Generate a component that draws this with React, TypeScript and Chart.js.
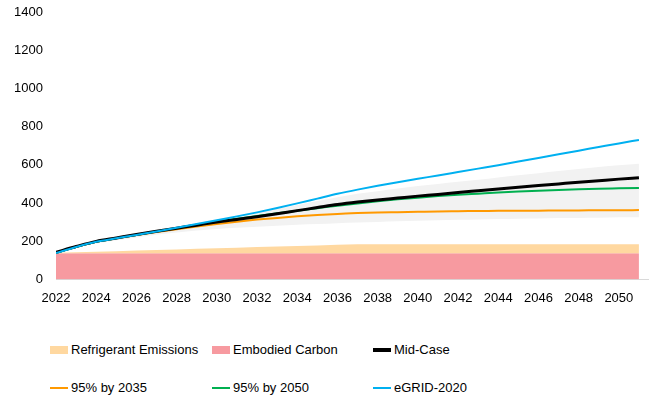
import React, { useEffect, useRef } from "react";
import { Chart, registerables } from "chart.js";

Chart.register(...registerables);

const years = [
  2022, 2023, 2024, 2025, 2026, 2027, 2028, 2029, 2030, 2031,
  2032, 2033, 2034, 2035, 2036, 2037, 2038, 2039, 2040, 2041,
  2042, 2043, 2044, 2045, 2046, 2047, 2048, 2049, 2050, 2051,
];

const yTicks = [0, 200, 400, 600, 800, 1000, 1200, 1400];
const xTickYears = [2022, 2024, 2026, 2028, 2030, 2032, 2034, 2036, 2038, 2040, 2042, 2044, 2046, 2048, 2050];

const embodiedCarbon = [
  137, 137, 137, 137, 137, 137, 137, 137, 137, 137,
  137, 137, 137, 137, 137, 137, 137, 137, 137, 137,
  137, 137, 137, 137, 137, 137, 137, 137, 137, 137,
];

const refrigerantEmissions = [
  2, 5, 8, 11, 14, 17, 20, 23, 26, 29,
  32, 35, 38, 41, 44, 47, 47, 47, 47, 47,
  47, 47, 47, 47, 47, 47, 47, 47, 47, 47,
];

const rangeLow = [
  138, 165, 188, 205, 220, 234, 246, 256, 264, 270,
  276, 281, 286, 290, 294, 298, 301, 304, 307, 310,
  312, 314, 316, 318, 319, 321, 322, 323, 325, 326,
];

const rangeHigh = [
  142, 172, 200, 220, 240, 258, 276, 294, 312, 330,
  350, 370, 390, 410, 430, 448, 462, 476, 489, 500,
  511, 522, 534, 545, 556, 567, 578, 588, 597, 605,
];

const midCase = [
  142, 172, 199, 217, 235, 252, 268, 284, 300, 314,
  328, 344, 360, 376, 392, 405, 416, 426, 436, 445,
  455, 464, 473, 482, 491, 500, 509, 517, 525, 532,
];

const by2035 = [
  140, 170, 197, 215, 232, 248, 263, 277, 290, 302,
  313, 322, 330, 337, 343, 347, 350, 352, 354, 356,
  357, 358, 359, 360, 360, 361, 361, 362, 362, 363,
];

const by2050 = [
  140, 170, 197, 215, 233, 251, 268, 286, 303, 318,
  332, 346, 360, 373, 386, 398, 409, 419, 428, 436,
  443, 449, 455, 460, 464, 468, 472, 475, 477, 479,
];

const egrid2020 = [
  138, 170, 197, 215, 233, 251, 270, 290, 310, 330,
  351, 374, 398, 423, 448, 470, 490, 509, 527, 544,
  562, 580, 598, 617, 636, 655, 674, 693, 712, 730,
];

const FONT = "'Liberation Sans', Arial, sans-serif";

const legendItems = [
  { label: "Refrigerant Emissions", color: "#FFD8A0", kind: "box" },
  { label: "Embodied Carbon", color: "#F79AA0", kind: "box" },
  { label: "Mid-Case", color: "#000000", kind: "thick" },
  { label: "95% by 2035", color: "#FF9900", kind: "line" },
  { label: "95% by 2050", color: "#00B050", kind: "line" },
  { label: "eGRID-2020", color: "#00B0F0", kind: "line" },
];

const pts = (arr: number[]) => arr.map((v, i) => ({ x: years[i], y: v }));

export default function App() {
  const ref = useRef<HTMLCanvasElement | null>(null);

  useEffect(() => {
    if (!ref.current) return;
    const refrigerantTop = refrigerantEmissions.map((v, i) => v + embodiedCarbon[i]);
    const lineBase = {
      pointRadius: 0,
      fill: false,
      cubicInterpolationMode: "monotone" as const,
    };
    const chart = new Chart(ref.current, {
      type: "line",
      data: {
        datasets: [
          {
            label: "Embodied Carbon",
            data: pts(embodiedCarbon),
            borderWidth: 0,
            borderColor: "rgba(0,0,0,0)",
            backgroundColor: "#F79AA0",
            pointRadius: 0,
            fill: "origin",
            order: 10,
          },
          {
            label: "Refrigerant Emissions",
            data: pts(refrigerantTop),
            borderWidth: 0,
            borderColor: "rgba(0,0,0,0)",
            backgroundColor: "#FFD8A0",
            pointRadius: 0,
            fill: 0,
            order: 9,
          },
          {
            label: "range-low",
            data: pts(rangeLow),
            ...lineBase,
            borderWidth: 0,
            borderColor: "rgba(0,0,0,0)",
            order: 8,
          },
          {
            label: "range-high",
            data: pts(rangeHigh),
            ...lineBase,
            borderWidth: 0,
            borderColor: "rgba(0,0,0,0)",
            backgroundColor: "#F2F2F2",
            fill: 2,
            order: 7,
          },
          {
            label: "95% by 2035",
            data: pts(by2035),
            ...lineBase,
            borderColor: "#FF9900",
            borderWidth: 2,
            order: 4,
          },
          {
            label: "95% by 2050",
            data: pts(by2050),
            ...lineBase,
            borderColor: "#00B050",
            borderWidth: 2,
            order: 3,
          },
          {
            label: "Mid-Case",
            data: pts(midCase),
            ...lineBase,
            borderColor: "#000000",
            borderWidth: 3,
            order: 2,
          },
          {
            label: "eGRID-2020",
            data: pts(egrid2020),
            ...lineBase,
            borderColor: "#00B0F0",
            borderWidth: 2,
            order: 1,
          },
        ],
      },
      options: {
        animation: false,
        responsive: false,
        maintainAspectRatio: false,
        layout: { padding: { top: 12, right: 0, left: 0, bottom: 0 } },
        plugins: { legend: { display: false }, tooltip: { enabled: false } },
        scales: {
          x: {
            type: "linear",
            min: 2022,
            max: 2051.5,
            afterBuildTicks: (scale: any) => {
              scale.ticks = xTickYears.map((v) => ({ value: v }));
            },
            ticks: {
              includeBounds: false,
              autoSkip: false,
              maxRotation: 0,
              padding: 11,
              color: "#000",
              font: { family: FONT, size: 13 },
              callback: (v: any) => String(v),
            },
            grid: { display: false, drawTicks: false },
            border: { display: true, color: "#D9D9D9", width: 1 },
          },
          y: {
            min: 0,
            max: 1400,
            afterBuildTicks: (scale: any) => {
              scale.ticks = yTicks.map((v) => ({ value: v }));
            },
            afterFit: (scale: any) => {
              scale.width = 56;
              scale.paddingTop = 0;
              scale.paddingBottom = 0;
            },
            ticks: {
              padding: 13,
              color: "#000",
              font: { family: FONT, size: 13 },
              callback: (v: any) => String(v),
            },
            grid: { display: false, drawTicks: false },
            border: { display: false },
          },
        },
      },
    });
    return () => chart.destroy();
  }, []);

  return (
    <div style={{ position: "absolute", left: 0, top: 0, width: 649, height: 399, background: "#fff", fontFamily: FONT }}>
      <canvas ref={ref} width={649} height={317} style={{ position: "absolute", left: 0, top: 0, display: "block" }} />
      {legendItems.map((it, i) => {
        const col = i % 3;
        const row = Math.floor(i / 3);
        const left = [50, 212, 373][col];
        const top = [350, 388][row];
        const swH = it.kind === "box" ? 8 : it.kind === "thick" ? 4 : 2;
        return (
          <div key={it.label} style={{ position: "absolute", left, top: top - 9, height: 18, display: "flex", alignItems: "center", whiteSpace: "nowrap" }}>
            <span style={{ display: "inline-block", width: 18, height: swH, background: it.color, marginRight: 3 }} />
            <span style={{ fontSize: 13, color: "#000", lineHeight: "18px" }}>{it.label}</span>
          </div>
        );
      })}
    </div>
  );
}
